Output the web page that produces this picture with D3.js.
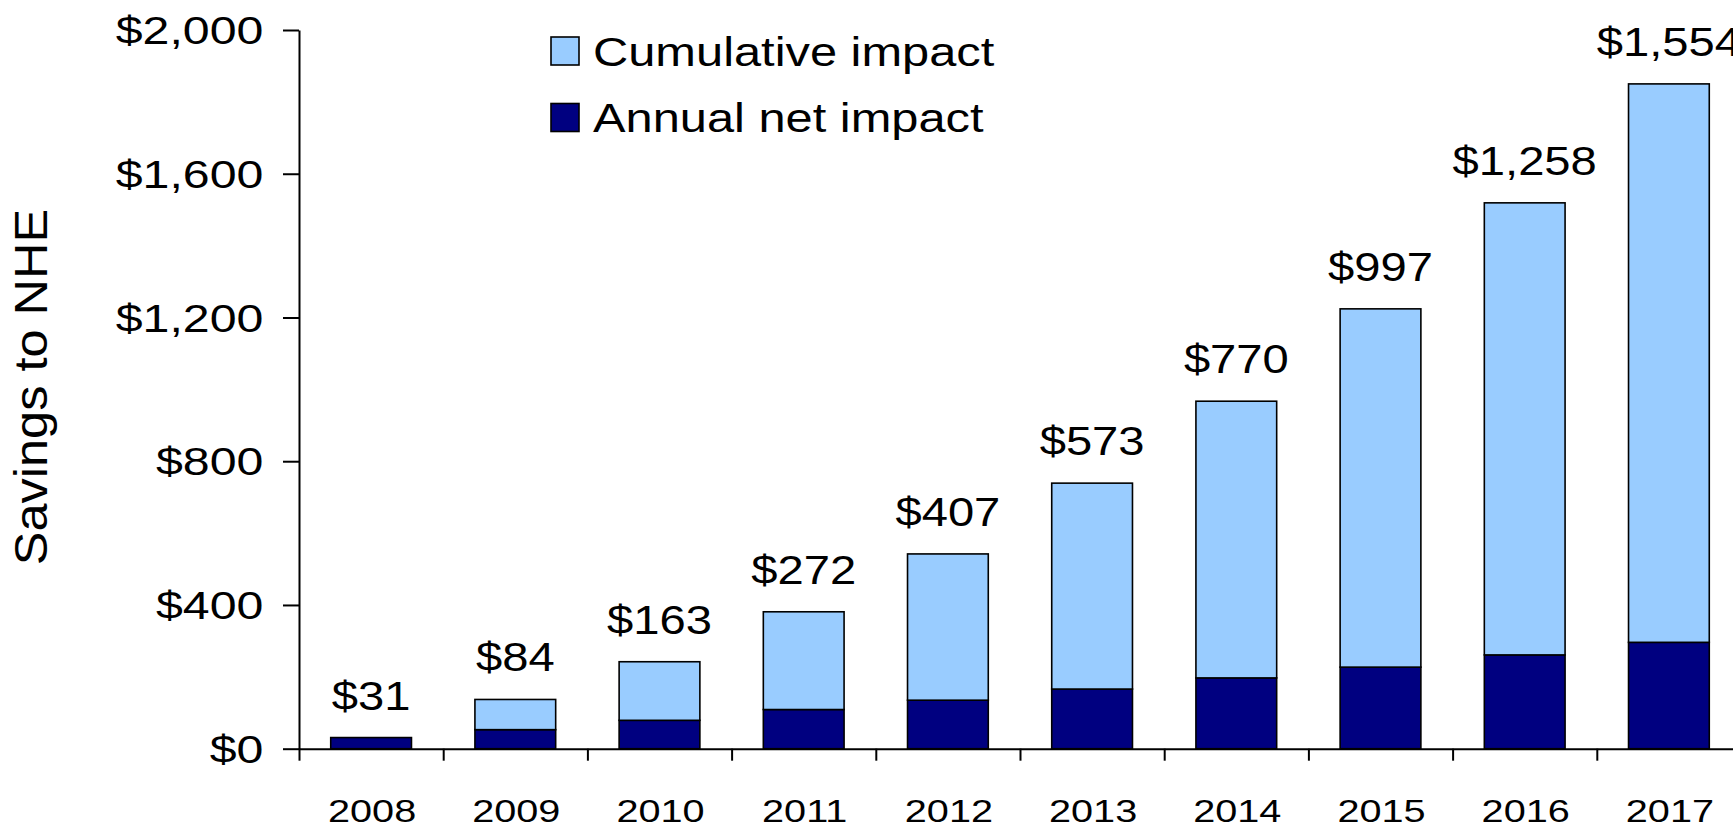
<!DOCTYPE html>
<html>
<head>
<meta charset="utf-8">
<script src="https://cdn.jsdelivr.net/npm/d3@7"></script>
<style>
  body { margin: 0; background: #fff; }
  svg { display: block; font-family: "Liberation Sans", Arial, sans-serif; }
</style>
</head>
<body>
<div id="chart"></div>
<script>
// Data
var years = ["2008", "2009", "2010", "2011", "2012", "2013", "2014", "2015", "2016", "2017"];
var annualNet = [31, 53, 79, 109, 135, 166, 197, 227, 261, 296];
var cumulative = [0, 84, 163, 272, 407, 573, 770, 997, 1258, 1554];
var barLabels = ["$31", "$84", "$163", "$272", "$407", "$573", "$770", "$997", "$1,258", "$1,554"];
var yTicks = [0, 400, 800, 1200, 1600, 2000];
var legendNames = ["Cumulative impact", "Annual net impact"];

var w = 1733;
var h = 826;
var light = "#99CCFF";
var dark = "#000080";

var svg = d3.select("#chart").append("svg")
  .attr("width", w)
  .attr("height", h);

// scales
var xBand = d3.scaleBand()
  .domain(years)
  .range([299, 299 + 144.2 * years.length])
  .paddingInner(0.44)
  .paddingOuter(0.22);

var xEdge = d3.scaleLinear()
  .domain([0, years.length])
  .range(xBand.range());

var yScale = d3.scaleLinear()
  .domain([0, 2000])
  .range([748.7, 30]);

// text drawn slightly stretched sideways, like the original
function stretchedText(sel, x, y, str, size, sx, anchor) {
  var g = sel.append("g")
    .attr("transform", "translate(" + x + "," + y + ") scale(" + sx + ",1)");
  g.append("text")
    .attr("text-anchor", anchor)
    .attr("font-size", size)
    .attr("fill", "#000")
    .text(str);
  return g;
}

// bars
var rows = years.map(function (d, i) {
  return { year: d, annual: annualNet[i], cum: cumulative[i], label: barLabels[i] };
});

var bars = svg.append("g");

bars.selectAll(".annual")
  .data(rows)
  .enter()
  .append("rect")
  .attr("class", "annual")
  .attr("x", function (d) { return xBand(d.year); })
  .attr("width", xBand.bandwidth())
  .attr("y", function (d) { return yScale(d.annual); })
  .attr("height", function (d) { return yScale(0) - yScale(d.annual); })
  .attr("fill", dark)
  .attr("stroke", "#000")
  .attr("stroke-width", 1.6);

bars.selectAll(".cum")
  .data(rows.filter(function (d) { return d.cum > 0; }))
  .enter()
  .append("rect")
  .attr("class", "cum")
  .attr("x", function (d) { return xBand(d.year); })
  .attr("width", xBand.bandwidth())
  .attr("y", function (d) { return yScale(d.annual + d.cum); })
  .attr("height", function (d) { return yScale(d.annual) - yScale(d.annual + d.cum); })
  .attr("fill", light)
  .attr("stroke", "#000")
  .attr("stroke-width", 1.6);

// value labels above the bars
rows.forEach(function (d) {
  stretchedText(svg, xBand(d.year) + xBand.bandwidth() / 2,
    yScale(d.annual + d.cum) - 28, d.label, 41, 1.15, "middle");
});

// y axis
var yAxis = svg.append("g")
  .attr("transform", "translate(299,0)")
  .call(d3.axisLeft(yScale)
    .tickValues(yTicks)
    .tickSize(16)
    .tickSizeOuter(0)
    .tickFormat(function (d) { return "$" + d3.format(",")(d); }));

yAxis.select(".domain").attr("stroke", "#000").attr("stroke-width", 2);
yAxis.selectAll(".tick line").attr("stroke", "#000").attr("stroke-width", 2);
yAxis.selectAll(".tick text")
  .attr("font-size", 38)
  .attr("font-family", "Liberation Sans, Arial, sans-serif")
  .attr("fill", "#000")
  .attr("x", -35.7 / 1.27)
  .attr("dy", "0.36em")
  .attr("transform", "scale(1.27,1)");

// x axis: line and ticks at the band edges
var xAxis = svg.append("g")
  .attr("transform", "translate(0," + yScale(0) + ")")
  .call(d3.axisBottom(xEdge)
    .tickValues(d3.range(years.length + 1))
    .tickSize(12)
    .tickSizeOuter(0)
    .tickFormat(""));

xAxis.select(".domain").attr("stroke", "#000").attr("stroke-width", 2);
xAxis.selectAll(".tick line").attr("stroke", "#000").attr("stroke-width", 2);

// year labels
years.forEach(function (d) {
  stretchedText(svg, xBand(d) + xBand.bandwidth() / 2 + 1, 822, d, 32, 1.24, "middle");
});

// y axis title
svg.append("g")
  .attr("transform", "translate(47,387) rotate(-90) scale(1.11,1)")
  .append("text")
  .attr("text-anchor", "middle")
  .attr("font-size", 45.5)
  .attr("fill", "#000")
  .text("Savings to NHE");

// legend
var legendColors = [light, dark];
var legend = svg.append("g");
legendNames.forEach(function (name, i) {
  var y0 = 37 + i * 66.5;
  legend.append("rect")
    .attr("x", 551)
    .attr("y", y0)
    .attr("width", 28)
    .attr("height", 28)
    .attr("fill", legendColors[i])
    .attr("stroke", "#000")
    .attr("stroke-width", 1.6);
  stretchedText(legend, 593, y0 + 28.5, name, 40, 1.22, "start");
});
</script>
</body>
</html>
